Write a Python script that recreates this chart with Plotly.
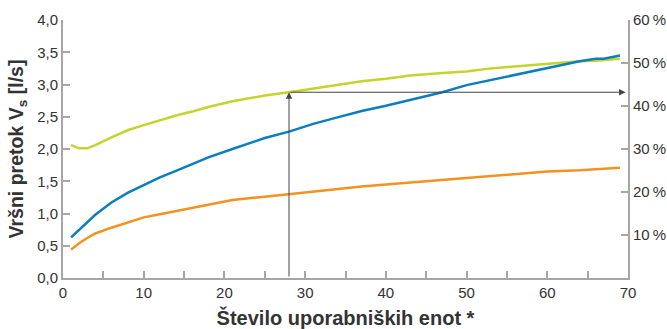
import plotly.graph_objects as go

x_units = [1, 2, 3, 4, 6, 8, 10, 12, 14, 16, 18, 21, 25, 28, 31, 34, 37, 40, 43, 47, 50, 53, 56, 60, 64, 66, 67, 69]
green_vals = [2.06, 2.01, 2.01, 2.06, 2.18, 2.29, 2.37, 2.45, 2.52, 2.58, 2.65, 2.74, 2.83, 2.88, 2.94, 3.00, 3.05, 3.09, 3.14, 3.18, 3.20, 3.25, 3.28, 3.33, 3.36, 3.37, 3.38, 3.40]
blue_vals = [0.63, 0.75, 0.86, 0.98, 1.17, 1.32, 1.44, 1.56, 1.66, 1.76, 1.87, 2.00, 2.17, 2.27, 2.39, 2.49, 2.59, 2.67, 2.76, 2.88, 2.99, 3.07, 3.15, 3.26, 3.36, 3.40, 3.40, 3.45]
orange_vals = [0.44, 0.54, 0.62, 0.69, 0.78, 0.86, 0.94, 0.99, 1.04, 1.09, 1.14, 1.21, 1.26, 1.30, 1.35, 1.38, 1.42, 1.45, 1.48, 1.52, 1.55, 1.58, 1.61, 1.65, 1.67, 1.69, 1.70, 1.71]

x_tickvals = [0, 5, 10, 15, 20, 25, 30, 35, 40, 45, 50, 55, 60, 65, 70]
x_ticktext = ["0", "", "10", "", "20", "", "30", "", "40", "", "50", "", "60", "", "70"]
y_tickvals = [0, 0.5, 1.0, 1.5, 2.0, 2.5, 3.0, 3.5, 4.0]
y2_tickvals = [10, 20, 30, 40, 50, 60]
y2_ticktext = ["10\u2009%", "20\u2009%", "30\u2009%", "40\u2009%", "50\u2009%", "60\u2009%"]

arrow_x = 28
arrow_y = 2.88
arrow_end_x = 69.7

FONT = "Liberation Sans, Arial, sans-serif"
AXIS_GRAY = "#a6a6a6"
TXT = "#333333"

fig = go.Figure()
fig.add_trace(go.Scatter(x=x_units, y=green_vals, mode="lines",
                         line=dict(color="#c3d52d", width=2.5), showlegend=False))
fig.add_trace(go.Scatter(x=x_units, y=blue_vals, mode="lines",
                         line=dict(color="#0b7dc1", width=2.5), showlegend=False))
fig.add_trace(go.Scatter(x=x_units, y=orange_vals, mode="lines",
                         line=dict(color="#f3921f", width=2.5), showlegend=False))
# invisible trace to activate right axis
fig.add_trace(go.Scatter(x=[None], y=[None], yaxis="y2", showlegend=False))

fig.add_annotation(x=arrow_x, y=arrow_y, ax=arrow_x, ay=0, xref="x", yref="y",
                   axref="x", ayref="y", showarrow=True, arrowhead=2, arrowsize=1.3,
                   arrowwidth=1, arrowcolor="#444444", text="")
fig.add_annotation(x=arrow_end_x, y=arrow_y, ax=arrow_x, ay=arrow_y, xref="x", yref="y",
                   axref="x", ayref="y", showarrow=True, arrowhead=2, arrowsize=1.3,
                   arrowwidth=1, arrowcolor="#444444", text="")

fig.update_layout(
    width=667, height=329,
    margin=dict(l=63, r=39, t=20, b=51),
    plot_bgcolor="white", paper_bgcolor="white",
    separators=", ",
    font=dict(family=FONT, color=TXT, size=15),
    xaxis=dict(range=[0, 70], tickvals=x_tickvals, ticktext=x_ticktext,
               ticks="inside", ticklen=7, tickcolor=AXIS_GRAY, tickwidth=1.5,
               showline=True, linecolor=AXIS_GRAY, linewidth=2, showgrid=False,
               zeroline=False, tickfont=dict(size=15, color=TXT), automargin=False,
               title=dict(text="<b>Število uporabniških enot *</b>", standoff=12,
                          font=dict(size=20, color=TXT))),
    yaxis=dict(range=[0, 4.0], tickvals=y_tickvals, tickformat=".1f",
               ticks="inside", ticklen=7, tickcolor=AXIS_GRAY, tickwidth=1.5,
               showline=True, linecolor=AXIS_GRAY, linewidth=2, showgrid=False,
               zeroline=False, tickfont=dict(size=15, color=TXT), automargin=False,
               title=dict(text="<b>Vršni pretok V<sub>s</sub> [l/s]</b>", standoff=8,
                          font=dict(size=19.5, color=TXT))),
    yaxis2=dict(range=[0, 60], overlaying="y", side="right", tickvals=y2_tickvals,
                ticktext=y2_ticktext, ticks="inside", ticklen=7, tickcolor=AXIS_GRAY,
                tickwidth=1.5, showline=True, linecolor=AXIS_GRAY, linewidth=2,
                showgrid=False, zeroline=False, tickfont=dict(size=15, color=TXT),
                automargin=False),
)

fig.write_html("out.html", config={"displayModeBar": False},
               post_script="document.body.style.margin='0';document.body.style.overflow='hidden';")
